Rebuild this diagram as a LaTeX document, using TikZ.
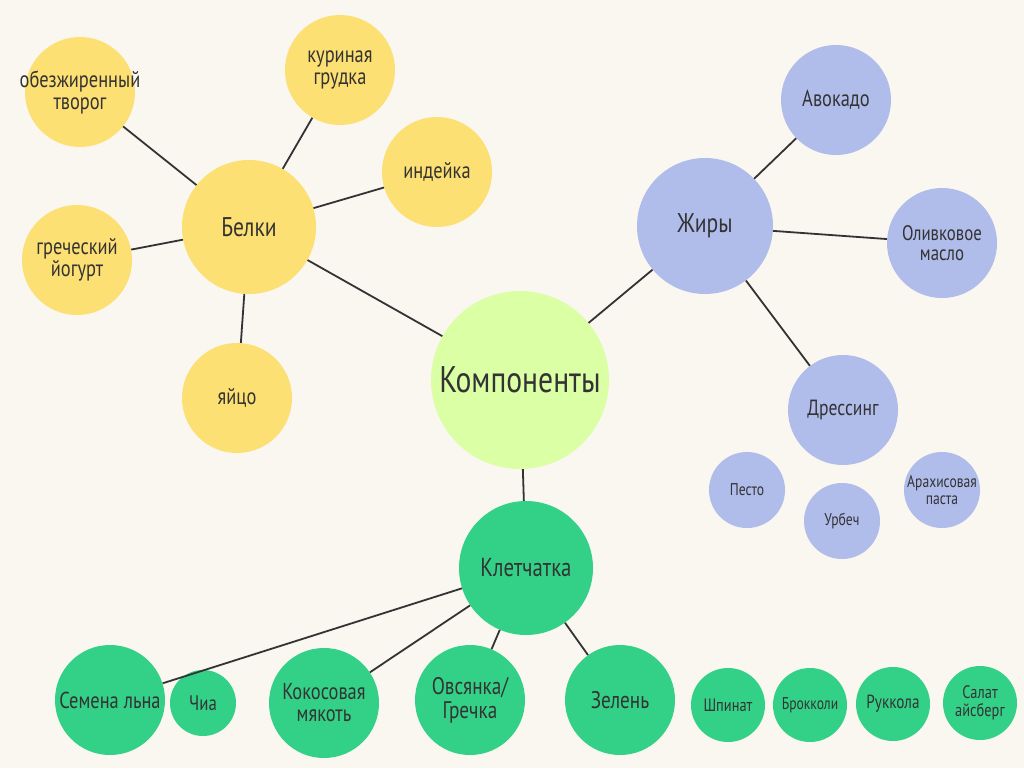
\documentclass[tikz,border=0pt]{standalone}
\usepackage{fontspec}
\setmainfont[FakeStretch=0.8]{PT Sans}
\usepackage{tikz}
\definecolor{bgcol}{HTML}{FAF6F0}
\definecolor{yel}{HTML}{FDE073}
\definecolor{lime}{HTML}{DBFFA5}
\definecolor{lav}{HTML}{B0BDEB}
\definecolor{grn}{HTML}{33D187}
\definecolor{ink}{HTML}{333333}

\begin{document}
\begin{tikzpicture}[x=1pt,y=-1pt,
  bub/.style={circle, inner sep=0pt, text=ink, align=center, font=\fontsize{23}{22}\selectfont},
  big/.style={bub, minimum size=#1pt},
  link/.style={draw=ink, line width=1.8pt}]
  \fill[bgcol] (0,0) rectangle (1024,768);

  \node[big=178, fill=lime, font=\fontsize{37}{38}\selectfont] (comp) at (520,380) {Компоненты};

  \node[big=134, fill=yel, font=\fontsize{27}{28}\selectfont] (prot) at (249,227) {Белки};
  \node[big=110, fill=yel] (p1) at (80,92) {\makebox[70pt]{обезжиренный}\\\makebox[70pt]{творог}};
  \node[big=110, fill=yel] (p2) at (340,70) {куриная\\грудка};
  \node[big=110, fill=yel] (p3) at (437,172) {индейка};
  \node[big=110, fill=yel] (p4) at (77,260) {греческий\\йогурт};
  \node[big=110, fill=yel] (p5) at (237,398) {яйцо};

  \node[big=136, fill=lav, font=\fontsize{27}{28}\selectfont] (fat) at (705,226) {Жиры};
  \node[big=110, fill=lav] (f1) at (836,100) {Авокадо};
  \node[big=110, fill=lav, font=\fontsize{21}{20}\selectfont] (f2) at (942,243) {Оливковое\\масло};
  \node[big=110, fill=lav, font=\fontsize{22}{23}\selectfont] (f3) at (843,410) {Дрессинг};
  \node[big=76, fill=lav, font=\fontsize{17}{17}\selectfont] (d1) at (747,490) {Песто};
  \node[big=76, fill=lav, font=\fontsize{17}{17}\selectfont] (d2) at (842,521) {Урбеч};
  \node[big=76, fill=lav, font=\fontsize{17}{17}\selectfont] (d3) at (942,490) {Арахисовая\\паста};

  \node[big=134, fill=grn, font=\fontsize{26}{27}\selectfont] (fib) at (526,568) {Клетчатка};
  \node[big=110, fill=grn] (c1) at (110,700) {Семена льна};
  \node[big=66, fill=grn, font=\fontsize{21}{22}\selectfont] (c2) at (203,703) {Чиа};
  \node[big=110, fill=grn] (c3) at (324,703) {Кокосовая\\мякоть};
  \node[big=110, fill=grn, font=\fontsize{24}{24}\selectfont] (c4) at (470,700) {Овсянка/\\Гречка};
  \node[big=110, fill=grn, font=\fontsize{24}{24}\selectfont] (c5) at (620,700) {Зелень};
  \node[big=74, fill=grn, font=\fontsize{18}{18}\selectfont] (g1) at (728,705) {Шпинат};
  \node[big=74, fill=grn, font=\fontsize{17}{18}\selectfont] (g2) at (810,705) {Брокколи};
  \node[big=74, fill=grn, font=\fontsize{19}{18}\selectfont] (g3) at (893,704) {Руккола};
  \node[big=74, fill=grn, font=\fontsize{18}{18}\selectfont] (g4) at (980,703) {Салат\\айсберг};

  \draw[link] (comp) -- (prot);
  \draw[link] (comp) -- (fat);
  \draw[link] (comp) -- (fib);
  \foreach \n in {p1,p2,p3,p4,p5}
    \draw[link] (prot) -- (\n);
  \foreach \n in {f1,f2,f3}
    \draw[link] (fat) -- (\n);
  \foreach \n in {c1,c3,c4,c5}
    \draw[link] (fib) -- (\n);
\end{tikzpicture}
\end{document}
